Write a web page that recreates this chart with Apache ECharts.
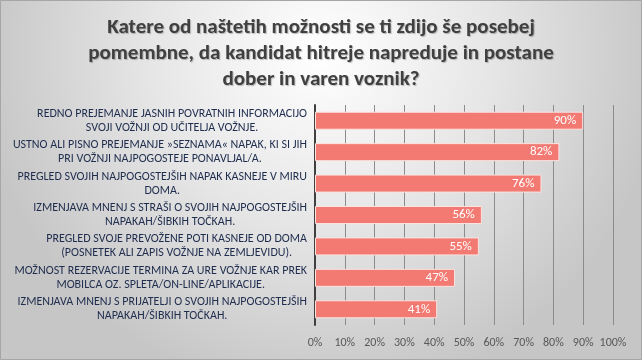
<!DOCTYPE html>
<html><head><meta charset="utf-8">
<script src="https://cdn.jsdelivr.net/npm/echarts@6/dist/echarts.min.js"></script>
<style>html,body{margin:0;padding:0;background:#fff}#c{width:642px;height:360px}</style>
</head><body><div id="c"></div>
<script>
const titleText = "Katere od naštetih možnosti se ti zdijo še posebej\npomembne, da kandidat hitreje napreduje in postane\ndober in varen voznik?";
const categories = [
  "REDNO PREJEMANJE JASNIH POVRATNIH INFORMACIJO\nSVOJI VOŽNJI OD UČITELJA VOŽNJE.",
  "USTNO ALI PISNO PREJEMANJE »SEZNAMA« NAPAK, KI SI JIH\nPRI VOŽNJI NAJPOGOSTEJE PONAVLJAL/A.",
  "PREGLED SVOJIH NAJPOGOSTEJŠIH NAPAK KASNEJE V MIRU\nDOMA.",
  "IZMENJAVA MNENJ S STRAŠI O SVOJIH NAJPOGOSTEJŠIH\nNAPAKAH/ŠIBKIH TOČKAH.",
  "PREGLED SVOJE PREVOŽENE POTI KASNEJE OD DOMA\n(POSNETEK ALI ZAPIS VOŽNJE NA ZEMLJEVIDU).",
  "MOŽNOST REZERVACIJE TERMINA ZA URE VOŽNJE KAR PREK\nMOBILCA OZ. SPLETA/ON-LINE/APLIKACIJE.",
  "IZMENJAVA MNENJ S PRIJATELJI O SVOJIH NAJPOGOSTEJŠIH\nNAPAKAH/ŠIBKIH TOČKAH."
];
const values = [90, 82, 76, 56, 55, 47, 41];
const xTicks = {min: 0, max: 100, interval: 10};

const chart = echarts.init(document.getElementById('c'), null, {renderer: 'canvas'});
const font = 'Carlito, Calibri, "Liberation Sans Narrow", "Liberation Sans", sans-serif';
chart.setOption({
  backgroundColor: {
    type: 'radial', x: 0.5, y: 0.15, r: 0.95,
    colorStops: [{offset: 0, color: '#ffffff'}, {offset: 0.5, color: '#e6e6e6'}, {offset: 1, color: '#c6c6c6'}]
  },
  animation: false,
  graphic: [{type: 'rect', shape: {x: 0.5, y: 0.5, width: 641, height: 359}, style: {fill: 'none', stroke: '#a6a6a6', lineWidth: 1}}],
  title: {
    text: titleText, left: 'center', top: 10,
    textStyle: {fontFamily: font, fontSize: 21, fontWeight: 'bold', color: '#404040', lineHeight: 26,
      textShadowColor: 'rgba(0,0,0,0.25)', textShadowBlur: 1, textShadowOffsetX: 1, textShadowOffsetY: 1}
  },
  grid: {left: 315, right: 29, top: 105, bottom: 35, containLabel: false},
  xAxis: {
    type: 'value', min: xTicks.min, max: xTicks.max, interval: xTicks.interval,
    axisLabel: {formatter: '{value}%', color: '#595959', fontSize: 12, fontFamily: font, margin: 12},
    axisLine: {show: false}, axisTick: {show: false},
    splitLine: {lineStyle: {color: '#8c8c8c', width: 1}}
  },
  yAxis: {
    type: 'category', data: categories, inverse: true,
    axisLine: {lineStyle: {color: '#404040', width: 2}},
    axisTick: {show: false},
    axisLabel: {
      margin: 8, align: 'right', color: '#1f2d4e', fontFamily: font, fontSize: 12, lineHeight: 14,
      formatter: v => v.split('\n').map(l => '{c|' + l + '}').join('\n'),
      rich: {c: {align: 'center', color: '#1f2d4e', fontFamily: font, fontSize: 12, lineHeight: 14}}
    }
  },
  series: [{
    type: 'bar', data: values, barWidth: 18,
    itemStyle: {color: '#f27a72', borderColor: '#fbe3e0', borderWidth: 1},
    label: {show: true, position: 'insideRight', formatter: '{c}%', color: '#ffffff', fontFamily: font, fontSize: 13, offset: [-2, 0]}
  }]
});
</script></body></html>
